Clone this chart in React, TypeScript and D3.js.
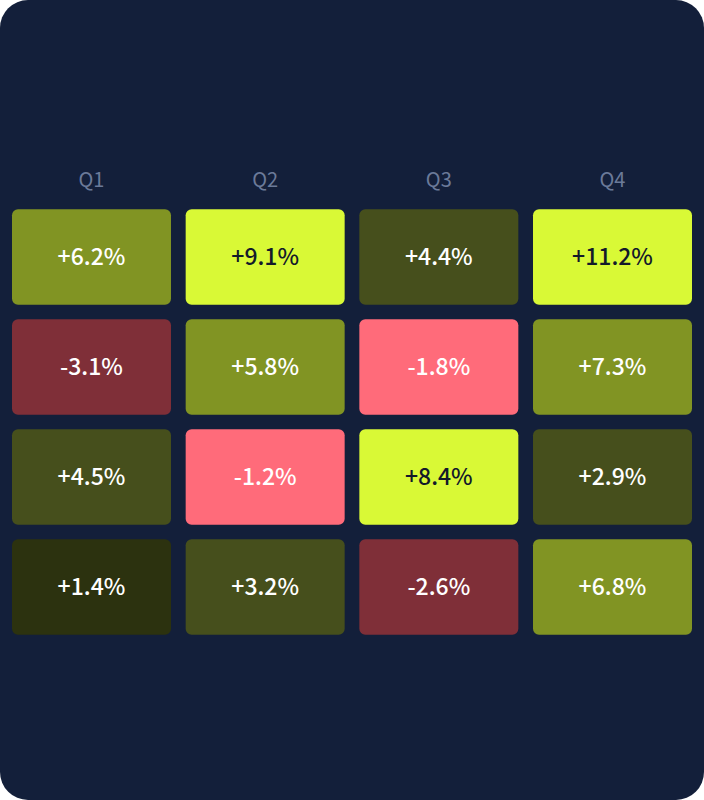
import { useEffect, useRef } from "react";
import * as d3 from "d3";

// ── Data ────────────────────────────────────────────────────────────
const quarters = ["Q1", "Q2", "Q3", "Q4"];
const rowIds = ["r1", "r2", "r3", "r4"];
const row1 = [6.2, 9.1, 4.4, 11.2];
const row2 = [-3.1, 5.8, -1.8, 7.3];
const row3 = [4.5, -1.2, 8.4, 2.9];
const row4 = [1.4, 3.2, -2.6, 6.8];
const rows = [row1, row2, row3, row4];

const colorBreaks = [-2, 0, 2, 5, 8];
const colorSteps = ["#7f2f38", "#ff6b7a", "#2c320f", "#464f1c", "#819423", "#d9f936"];

const W = 704;
const H = 800;

export default function App() {
  const svgRef = useRef<SVGSVGElement>(null);

  useEffect(() => {
    document.body.style.margin = "0";
    if (!svgRef.current) return;

    const svg = d3.select(svgRef.current);
    svg.selectAll("*").remove();

    svg
      .append("rect")
      .attr("width", W)
      .attr("height", H)
      .attr("rx", 28)
      .attr("fill", "#131f3a");

    const x = d3
      .scaleBand<string>()
      .domain(quarters)
      .range([12, 692])
      .paddingInner(0.0845);

    const y = d3
      .scaleBand<string>()
      .domain(rowIds)
      .range([209.3, 634.7])
      .paddingInner(0.1333);

    const color = d3
      .scaleThreshold<number, string>()
      .domain(colorBreaks)
      .range(colorSteps);

    const font = "'Noto Sans CJK SC', 'Noto Sans', sans-serif";

    // ── Column headers ────────────────────────────────────────────────
    svg
      .selectAll(".qlabel")
      .data(quarters)
      .enter()
      .append("text")
      .attr("class", "qlabel")
      .attr("x", (d) => (x(d) ?? 0) + x.bandwidth() / 2)
      .attr("y", 178)
      .attr("text-anchor", "middle")
      .attr("dominant-baseline", "central")
      .attr("font-family", font)
      .attr("font-size", 20)
      .attr("fill", "#6b7a99")
      .text((d) => d);

    // ── Cells ─────────────────────────────────────────────────────────
    const cells = rows.flatMap((vals, ri) =>
      vals.map((v, ci) => ({ row: rowIds[ri], col: quarters[ci], v })),
    );

    const g = svg.append("g");

    g.selectAll(".cell")
      .data(cells)
      .enter()
      .append("rect")
      .attr("class", "cell")
      .attr("x", (d) => x(d.col) ?? 0)
      .attr("y", (d) => y(d.row) ?? 0)
      .attr("width", x.bandwidth())
      .attr("height", y.bandwidth())
      .attr("rx", 6)
      .attr("fill", (d) => color(d.v));

    g.selectAll(".val")
      .data(cells)
      .enter()
      .append("text")
      .attr("class", "val")
      .attr("x", (d) => (x(d.col) ?? 0) + x.bandwidth() / 2)
      .attr("y", (d) => (y(d.row) ?? 0) + y.bandwidth() / 2 - 2)
      .attr("text-anchor", "middle")
      .attr("dominant-baseline", "central")
      .attr("font-family", font)
      .attr("font-size", 23)
      .attr("font-weight", 500)
      .attr("fill", (d) => (d.v >= 8 ? "#131a2a" : "#ffffff"))
      .text((d) => `${d.v > 0 ? "+" : ""}${d.v.toFixed(1)}%`);
  }, []);

  return (
    <div style={{ width: W, height: H }}>
      <svg ref={svgRef} width={W} height={H} style={{ display: "block" }} />
    </div>
  );
}
